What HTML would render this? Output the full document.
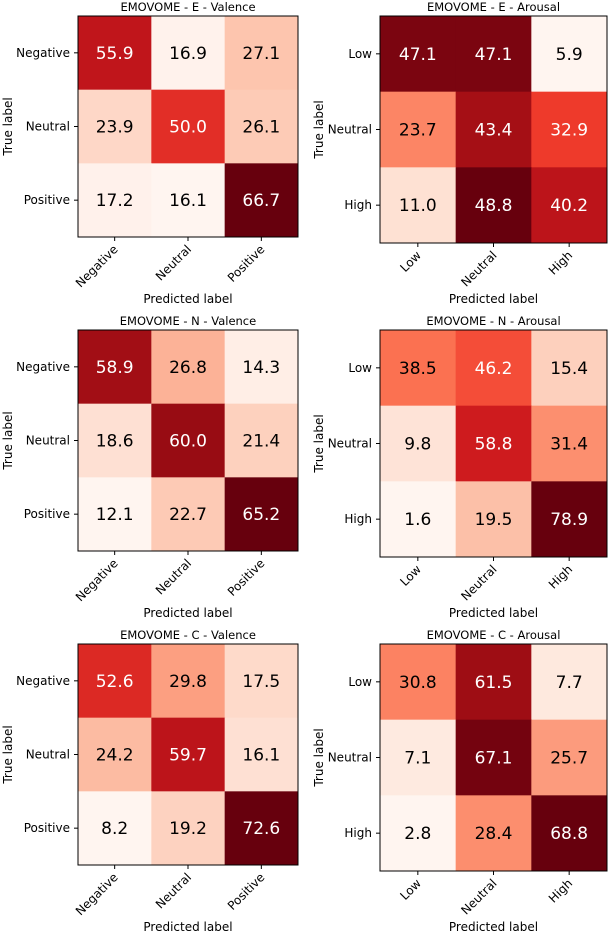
<!DOCTYPE html>
<html><head><meta charset="utf-8"><style>
html,body{margin:0;padding:0;background:#fff;}
svg{display:block;font-family:"DejaVu Sans","Liberation Sans",sans-serif;}
</style></head><body>
<svg id="chart" width="608" height="932" viewBox="0 0 608 932" xmlns="http://www.w3.org/2000/svg"></svg>
<script>
const titles = ["EMOVOME - E - Valence","EMOVOME - E - Arousal","EMOVOME - N - Valence","EMOVOME - N - Arousal","EMOVOME - C - Valence","EMOVOME - C - Arousal"];
const valenceLabels = ["Negative","Neutral","Positive"];
const arousalLabels = ["Low","Neutral","High"];
const valE = [[55.9,16.9,27.1],[23.9,50.0,26.1],[17.2,16.1,66.7]];
const aroE = [[47.1,47.1,5.9],[23.7,43.4,32.9],[11.0,48.8,40.2]];
const valN = [[58.9,26.8,14.3],[18.6,60.0,21.4],[12.1,22.7,65.2]];
const aroN = [[38.5,46.2,15.4],[9.8,58.8,31.4],[1.6,19.5,78.9]];
const valC = [[52.6,29.8,17.5],[24.2,59.7,16.1],[8.2,19.2,72.6]];
const aroC = [[30.8,61.5,7.7],[7.1,67.1,25.7],[2.8,28.4,68.8]];
const matrices = [valE,aroE,valN,aroN,valC,aroC];

const NS="http://www.w3.org/2000/svg";
const svg=document.getElementById('chart');
const reds=["#fff5f0","#fee0d2","#fcbba1","#fc9272","#fb6a4a","#ef3b2c","#cb181d","#a50f15","#67000d"];
function hex(h){return [1,3,5].map(i=>parseInt(h.substr(i,2),16));}
function cmap(t){t=Math.max(0,Math.min(1,t));const p=t*8;const i=Math.min(7,Math.floor(p));const f=p-i;
 const a=hex(reds[i]),b=hex(reds[i+1]);return "rgb("+a.map((v,k)=>Math.round(v+(b[k]-v)*f)).join(",")+")";}
function el(tag,attrs,parent){const e=document.createElementNS(NS,tag);for(const k in attrs)e.setAttribute(k,attrs[k]);(parent||svg).appendChild(e);return e;}

matrices.forEach((m,idx)=>{
  const col=idx%2,row=Math.floor(idx/2);
  const left=col===0;
  const x0=left?78:380, w=left?220:227, h=left?221:227;
  const y0=16+314*row;
  const cs=w/3, rs=h/3;
  const labels=left?valenceLabels:arousalLabels;
  const g=el('g',{});
  
  
  const flat=m.flat();const mn=Math.min(...flat),mx=Math.max(...flat);const thr=(mn+mx)/2;
  const sx=j=>x0+j*cs, sy=i=>y0+i*rs;
  m.forEach((r,i)=>r.forEach((v,j)=>{
    const c=el('rect',{x:sx(j),y:sy(i),width:cs+0.5,height:rs+0.5,fill:cmap((v-mn)/(mx-mn))},g);
    
    
    const t=el('text',{x:sx(j)+cs/2,y:sy(i)+rs/2+6,'text-anchor':'middle','font-size':'17',fill:v>thr?'#fff':'#000'},g);
    t.textContent=v.toFixed(1);
    
    
  }));
  const fr=el('rect',{x:x0,y:y0,width:w,height:h,fill:'none',stroke:'#000','stroke-width':'1'},g);
  
  
  const tt=el('text',{x:x0+w/2,y:y0-5,'text-anchor':'middle','font-size':'11.5'},g);
  tt.textContent=titles[idx];
  
  
  labels.forEach((lab,k)=>{
    const yc=sy(k)+rs/2;
    el('line',{x1:x0-4,x2:x0,y1:yc,y2:yc,stroke:'#000'},g);
    const yl=el('text',{x:x0-8,y:yc+4,'text-anchor':'end','font-size':'12'},g);
    yl.textContent=lab;
    
    
    const xc=sx(k)+cs/2;
    el('line',{x1:xc,x2:xc,y1:y0+h,y2:y0+h+4,stroke:'#000'},g);
    const xl=el('text',{x:xc+4,y:y0+h+13,'text-anchor':'end','font-size':'12',transform:'rotate(-45 '+(xc+4)+' '+(y0+h+13)+')'},g);
    xl.textContent=lab;
    
    
  });
  const ylab=el('text',{x:0,y:0,'text-anchor':'middle','font-size':'12',transform:'translate('+(left?12:323)+' '+(y0+h/2)+') rotate(-90)'},g);
  ylab.textContent='True label';
  
  
  const xlab=el('text',{x:x0+w/2,y:left?y0+h+66:y0+h+60,'text-anchor':'middle','font-size':'12'},g);
  xlab.textContent='Predicted label';
  
  
});
</script>
</body></html>
